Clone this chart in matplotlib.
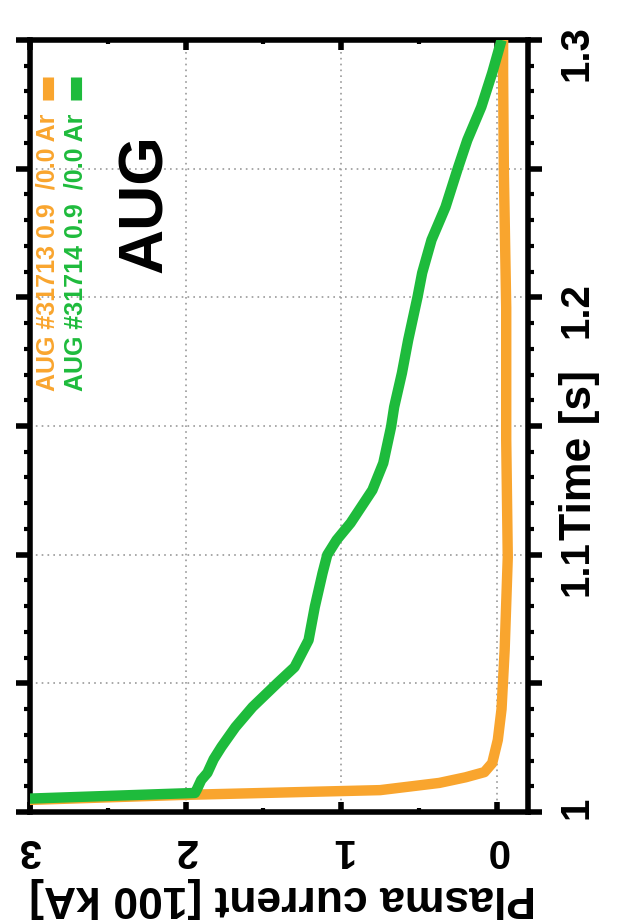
import matplotlib
matplotlib.use("Agg")
import matplotlib.pyplot as plt
from matplotlib.lines import Line2D
from matplotlib.ticker import MultipleLocator, FuncFormatter

plt.rcParams["font.family"] = ["Liberation Sans", "DejaVu Sans"]
plt.rcParams["font.weight"] = "bold"

# Plasma current [100 kA] versus time [s] for the two discharges
time_31713 = [1.0040, 1.0047, 1.0066, 1.0085, 1.0113, 1.0135, 1.0155, 1.0190,
              1.0240, 1.0280, 1.0400, 1.0630, 1.0990, 1.1446, 1.1960, 1.2480,
              1.2870, 1.3000]
ip_31713 = [3.30, 3.00, 2.04, 0.75, 0.37, 0.20, 0.08, 0.03,
            0.01, -0.006, -0.03, -0.05, -0.07, -0.06, -0.06, -0.045,
            -0.04, -0.04]

time_31714 = [1.0048, 1.0074, 1.0085, 1.0124, 1.0152, 1.0205, 1.0253, 1.0330,
              1.0408, 1.0501, 1.0563, 1.0668, 1.0797, 1.0929, 1.0999, 1.1057,
              1.1123, 1.1251, 1.1356, 1.1496, 1.1574, 1.1706, 1.1834, 1.2001,
              1.2095, 1.2223, 1.2351, 1.2503, 1.2611, 1.2740, 1.2872, 1.3000]
ip_31714 = [3.20, 1.94, 1.93, 1.90, 1.86, 1.82, 1.77, 1.68,
            1.57, 1.41, 1.30, 1.21, 1.17, 1.12, 1.09, 1.03,
            0.94, 0.80, 0.73, 0.68, 0.66, 0.61, 0.57, 0.51,
            0.48, 0.42, 0.33, 0.25, 0.19, 0.10, 0.03, -0.03]

legend_labels = ["AUG #31713 0.9  /0.0 Ar", "AUG #31714 0.9  /0.0 Ar"]
series_colors = ["#F9A52E", "#1EBB3C"]
device_label = "AUG"
x_label = "Plasma current [100 kA]"
y_label = "Time [s]"

W, H = 644, 922
fig = plt.figure(figsize=(W / 100, H / 100), dpi=100)
ax = fig.add_axes([30 / W, 1 - 812 / H, (528 - 30) / W, (812 - 40) / H])

ax.plot(ip_31713, time_31713, color=series_colors[0], lw=7.5,
        solid_capstyle="butt", solid_joinstyle="round", zorder=3)
ax.plot(ip_31714, time_31714, color=series_colors[1], lw=7.5,
        solid_capstyle="butt", solid_joinstyle="round", zorder=4)

ax.set_xlim(3, -0.2)
ax.set_ylim(1.0, 1.3)

# time axis: ticks every 0.05 (labelled every 0.1), minor every 0.01
ax.yaxis.set_major_locator(MultipleLocator(0.05))
ax.yaxis.set_minor_locator(MultipleLocator(0.01))


def time_fmt(v, pos):
    if abs(v * 10 - round(v * 10)) < 1e-6:
        return f"{round(v, 1):g}"
    return ""


ax.yaxis.set_major_formatter(FuncFormatter(time_fmt))
ax.tick_params(axis="y", which="both", direction="out", left=True, right=True,
               labelleft=False, labelright=True, labelrotation=90)
ax.tick_params(axis="y", which="major", length=10, width=4, pad=11,
               labelsize=29)
ax.tick_params(axis="y", which="minor", length=4.5, width=3)

# current axis
ax.xaxis.set_major_locator(MultipleLocator(1))
ax.xaxis.set_minor_locator(MultipleLocator(0.5))
ax.tick_params(axis="x", which="both", direction="in", top=True, bottom=True,
               labeltop=False, labelbottom=True, labelrotation=180)
ax.tick_params(axis="x", which="major", length=7.5, width=4, pad=14,
               labelsize=29)
ax.tick_params(axis="x", which="minor", length=3, width=3)

for sp in ax.spines.values():
    sp.set_linewidth(4)

ax.grid(True, which="major", color="#9a9a9a", linestyle=(0, (1, 2.5)),
        linewidth=1.2, zorder=1)
ax.set_axisbelow(True)

# axis titles
fig.text(283 / W, 1 - 897 / H, x_label, rotation=180, ha="center",
         va="center", fontsize=32, fontweight="bold")
fig.text(579 / W, 1 - 455 / H, y_label, rotation=90, ha="center",
         va="center", fontsize=32, fontweight="bold")

# legend entries
for i, (lab, col) in enumerate(zip(legend_labels, series_colors)):
    xc = [48, 76][i]
    fig.text(xc / W, 1 - 114 / H, lab, rotation=90, ha="center", va="top",
             fontsize=18, fontweight="bold", color=col,
             family=["Liberation Sans Narrow", "Liberation Sans"])
    fig.add_artist(Line2D([xc / W, xc / W], [1 - 77 / H, 1 - 100 / H],
                          lw=8, color=col, solid_capstyle="butt"))

fig.text(145 / W, 1 - 204 / H, device_label, rotation=90, ha="center",
         va="center", fontsize=45, fontweight="bold")

fig.savefig("out.png", dpi=100)
